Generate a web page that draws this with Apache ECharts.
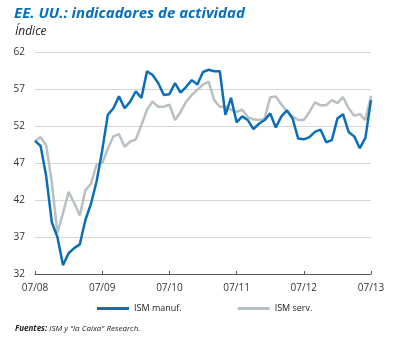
<!DOCTYPE html>
<html>
<head>
<meta charset="utf-8">
<script src="https://cdn.jsdelivr.net/npm/echarts@6/dist/echarts.min.js"></script>
<style>
  html, body { margin: 0; padding: 0; background: #fff; }
  #chart { width: 396px; height: 338px; }
</style>
</head>
<body>
<div id="chart"></div>
<script>
// monthly, 07/2008 .. 07/2013
var months = [];
for (var y = 2008; y <= 2013; y++) {
    for (var m = 1; m <= 12; m++) {
        if ((y == 2008 && m < 7) || (y == 2013 && m > 7)) continue;
        months.push((m < 10 ? "0" + m : "" + m) + "/" + String(y).slice(2));
    }
}

var ismManuf = [
    50.0, 49.3, 45.2, 39.0, 37.0, 33.2,
    34.8, 35.5, 36.0, 39.3, 41.5, 44.5, 48.7, 53.5, 54.4, 56.0, 54.4, 55.3,
    56.7, 55.8, 59.4, 58.9, 57.8, 56.2, 56.3, 57.8, 56.5, 57.3, 58.2, 57.6,
    59.3, 59.6, 59.4, 59.4, 53.5, 55.8, 52.5, 53.3, 52.8, 51.6, 52.3, 52.8,
    53.7, 51.8, 53.3, 54.1, 53.0, 50.3, 50.2, 50.5, 51.2, 51.5, 49.8, 50.1,
    53.0, 53.6, 51.2, 50.6, 49.0, 50.4, 55.5
];

var ismServ = [
    49.9, 50.5, 49.4, 44.4, 37.6, 40.2,
    43.1, 41.6, 39.9, 43.3, 44.2, 46.8, 47.0, 48.9, 50.6, 50.9, 49.2, 49.9,
    50.2, 52.1, 54.2, 55.3, 54.6, 54.6, 54.9, 52.8, 53.9, 55.3, 56.2, 56.9,
    57.6, 58.0, 55.5, 54.6, 54.6, 54.2, 53.9, 54.2, 53.2, 52.9, 52.8, 53.0,
    55.9, 56.0, 54.9, 54.0, 53.3, 52.8, 52.8, 53.9, 55.2, 54.8, 54.8, 55.5,
    55.1, 55.9, 54.4, 53.4, 53.6, 52.8, 56.1
];

var seriesNames = ["ISM manuf.", "ISM serv."];
var BLUE = "#0b6fb8";
var GREY = "#b9c0c3";

var chart = echarts.init(document.getElementById("chart"));

var option = {
    animation: false,
    textStyle: { fontFamily: "Open Sans" },
    title: [
        {
            text: "EE. UU.: indicadores de actividad",
            left: 9,
            top: 1,
            textStyle: { color: BLUE, fontSize: 15, fontWeight: "bold", fontStyle: "italic", fontFamily: "Open Sans" }
        },
        {
            text: "Índice",
            left: 10,
            top: 21,
            textStyle: { color: "#222", fontSize: 12, fontWeight: "normal", fontStyle: "italic", fontFamily: "Open Sans" }
        },
        {
            text: "{b|Fuentes:} ISM y \"la Caixa\" Research.",
            left: 10,
            top: 320,
            textStyle: {
                color: "#222", fontSize: 8, fontWeight: "normal", fontStyle: "italic", fontFamily: "Open Sans",
                rich: { b: { fontWeight: "bold", fontStyle: "italic", fontSize: 8, color: "#222", fontFamily: "Open Sans" } }
            }
        }
    ],
    legend: {
        data: seriesNames,
        top: 299,
        left: 92,
        itemGap: 56,
        itemWidth: 32,
        itemHeight: 3,
        icon: "rect",
        textStyle: { color: "#222", fontSize: 9, fontFamily: "Open Sans" }
    },
    grid: {
        left: 35,
        right: 25,
        top: 52,
        height: 222
    },
    xAxis: {
        type: "category",
        data: months,
        boundaryGap: false,
        axisLine: { lineStyle: { color: "#555", width: 1 } },
        axisTick: { interval: 11, inside: true, length: 3, lineStyle: { color: "#555" } },
        axisLabel: { interval: 11, color: "#333", fontSize: 10, margin: 9 },
        splitLine: { show: false }
    },
    yAxis: {
        type: "value",
        min: 32,
        max: 62,
        interval: 5,
        axisLine: { show: false },
        axisTick: { show: false },
        axisLabel: { color: "#333", fontSize: 10, margin: 10 },
        splitLine: { lineStyle: { color: "#d6d6d6", width: 1 } }
    },
    series: [
        {
            name: seriesNames[1],
            type: "line",
            data: ismServ,
            symbol: "none",
            lineStyle: { color: GREY, width: 2.5 },
            itemStyle: { color: GREY }
        },
        {
            name: seriesNames[0],
            type: "line",
            data: ismManuf,
            symbol: "none",
            lineStyle: { color: BLUE, width: 2.5 },
            itemStyle: { color: BLUE }
        }
    ]
};

chart.setOption(option);
</script>
</body>
</html>
